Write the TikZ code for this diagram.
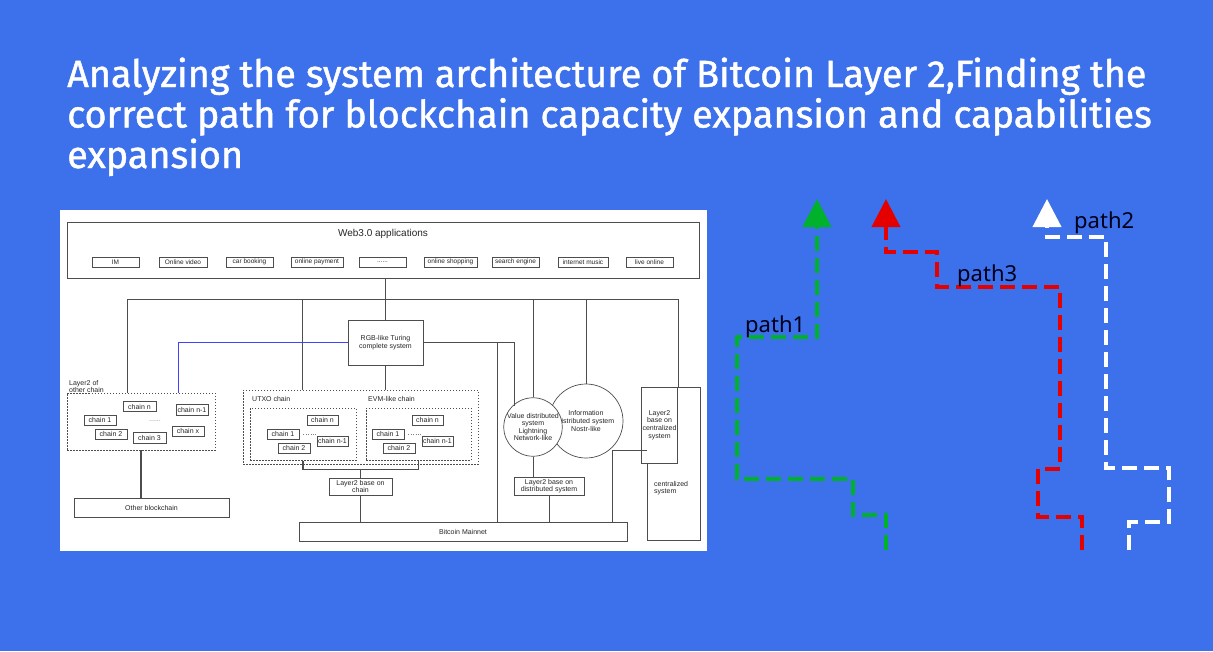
\documentclass[tikz,border=0pt]{standalone}
\usepackage{fontspec}
\setmainfont{Liberation Sans}
\newfontfamily\titlefont[FakeBold=1.2]{Fira Sans}
\newfontfamily\pathfont{Noto Sans}
\usetikzlibrary{arrows.meta}

\definecolor{bgblue}{HTML}{3D70EB}
\definecolor{pathgreen}{HTML}{00B22B}
\definecolor{pathred}{HTML}{E50000}
\definecolor{linegray}{HTML}{4D4D4D}
\definecolor{textgray}{HTML}{262626}

\tikzset{
  box/.style={draw=linegray, line width=0.7pt, fill=white, inner sep=1pt, align=center,
    text=textgray, font=\fontsize{7}{7.6}\selectfont},
  appbox/.style={box, minimum height=10pt, font=\fontsize{6.5}{7}\selectfont},
  chainbox/.style={box, line width=0.9pt, minimum width=32pt, minimum height=10pt},
  dotbox/.style={draw=linegray, line width=0.8pt, dash pattern=on 1.5pt off 1.5pt},
  wire/.style={draw=linegray, line width=0.7pt},
  bigwire/.style={draw=linegray, line width=1.4pt},
  blueline/.style={draw=blue!75!white, line width=0.8pt},
  tag/.style={text=textgray, font=\fontsize{7}{7.6}\selectfont, inner sep=0pt, align=left},
  route/.style={line width=4pt, dash pattern=on 15pt off 7pt, -{Triangle[width=28pt,length=28pt]}},
  pathlabel/.style={font=\pathfont\fontsize{22}{24}\selectfont, text=black!90!blue, inner sep=0pt},
}

\begin{document}
\begin{tikzpicture}[x=1pt,y=-1pt]

  % Background
  \fill[bgblue] (0,0) rectangle (1213,651);
  \useasboundingbox (0,0) rectangle (1213,651);

  % Title
  \node[anchor=base west, align=left, text=white, inner sep=0pt,
    font=\titlefont\fontsize{37.8}{40.5}\selectfont] (title) at (67,168)
    {Analyzing the system architecture of Bitcoin Layer 2,Finding the\\
     correct path for blockchain capacity expansion and capabilities\\
     expansion};

  % Diagram panel
  \fill[white] (60,210) rectangle (707,551);

  % Web3.0 applications
  \node[box, minimum width=632pt, minimum height=56pt] (web) at (383,250) {};
  \node[tag, font=\fontsize{10}{11}\selectfont] (webtitle) at (383,234) {Web3.0 applications};
  \foreach \app/\cx/\w [count=\i] in {IM/115.5/47, Online video/183/48, car booking/249.5/47,
      online payment/317/52, {......}/382.5/47, online shopping/450.5/53,
      search engine/515.5/47, internet music/583/50, live online/649.5/47}
    \node[appbox, minimum width=\w pt] (app\i) at (\cx,262) {\app};

  % Middle layer
  \node[box, minimum width=75pt, minimum height=45pt] (rgb) at (385.5,342.5)
    {RGB-like Turing\\complete system};

  % Layer2 of other chain
  \node[dotbox, minimum width=148pt, minimum height=57pt] (otherl2) at (141,421.5) {};
  \node[tag, anchor=south west] (otherl2title) at (69,393) {Layer2 of\\other chain};
  \node[chainbox, minimum width=33pt] (on) at (139.5,406.5) {chain n};
  \node[chainbox, minimum height=11pt] (on1) at (192,409.5) {chain n-1};
  \node[chainbox] (o1) at (100,420) {chain 1};
  \node[chainbox] (o2) at (111,434) {chain 2};
  \node[chainbox, minimum width=33pt, minimum height=11pt] (o3) at (149.5,437.5) {chain 3};
  \node[chainbox] (ox) at (188,431) {chain x};
  \node[tag, text=black!45] (odots) at (155,421) {......};
  \node[box, minimum width=155pt, minimum height=19pt] (otherbc) at (151.5,507.5) {Other blockchain};

  % UTXO and EVM-like chains
  \node[dotbox, minimum width=235pt, minimum height=74pt] (utxo) at (360.5,427) {};
  \node[tag, anchor=west] (utxotitle) at (252,399) {UTXO chain};
  \node[tag, anchor=west] (evmtitle) at (368,399) {EVM-like chain};
  \node[dotbox, minimum width=106pt, minimum height=52pt] (uin) at (303,434) {};
  \node[dotbox, minimum width=105pt, minimum height=52pt] (ein) at (418.5,434) {};
  \foreach \pre/\dx in {u/0, e/105}{
    \node[chainbox, minimum width=31pt] (\pre n) at (322.5+\dx,420) {chain n};
    \node[chainbox] (\pre 1) at (283+\dx,434) {chain 1};
    \node[chainbox] (\pre 2) at (294+\dx,448) {chain 2};
    \node[chainbox, minimum width=31pt] (\pre n1) at (332.5+\dx,441) {chain n-1};
    \draw[black!50, dotted] ([xshift=4pt]\pre 1.east) -- (\pre 1.east -| \pre n1.west);
  }
  \node[box, minimum width=63pt, minimum height=17pt] (l2chain) at (360.5,486.5)
    {Layer2 base on\\chain};

  % Distributed systems
  \node[box, circle, minimum size=74pt, inner sep=0pt] (ic) at (586,421)
    {Information\\distributed system\\Nostr-like};
  \node[box, circle, minimum size=53pt, inner sep=0pt] (vc) at (533,427)
    {Value distributed\\system\\Lightning\\Network-like};
  \node[box, minimum width=70pt, minimum height=18pt] (l2dist) at (549,486)
    {Layer2 base on\\distributed system};

  % Centralized system
  \node[box, minimum width=53pt, minimum height=153pt] (central) at (673.5,463.5) {};
  \node[box, minimum width=25pt, minimum height=76pt] (l2cen) at (659.5,425)
    {Layer2\\base on\\centralized\\system};
  \node[tag, anchor=west] (centraltext) at (654,488) {centralized\\system};

  % Bitcoin Mainnet
  \node[box, minimum width=328pt, minimum height=19pt] (mainnet) at (463,531.5) {Bitcoin Mainnet};

  % Connectors
  \coordinate (busW) at (127,299);
  \coordinate (busE) at (678,299);
  \coordinate (tapU) at (302,299);
  \coordinate (tapV) at (533,299);
  \coordinate (tapI) at (586,299);
  \coordinate (blueC) at (178,342.5);
  \coordinate (rgbR) at (514,342.5);
  \coordinate (tapM) at (497,342.5);
  \coordinate (cjoin) at (612,450);

  \draw[wire] (rgb.north |- web.south) -- (rgb.north);
  \draw[wire] (busW |- otherl2.north) -- (busW) -- (busE) -- (busE |- central.north);
  \draw[wire] (tapU) -- (tapU |- utxo.north);
  \draw[wire] (tapV) -- (vc.north);
  \draw[wire] (tapI) -- (ic.north);
  \draw[wire] (rgb.south) -- (rgb.south |- utxo.north);
  \draw[blueline] (rgb.west) -- (blueC) -- (blueC |- otherl2.north);
  \draw[wire] (rgb.east) -- (rgbR) -- (rgbR |- vc.135);
  \draw[wire] (tapM) -- (tapM |- mainnet.north);
  \draw[bigwire] (otherl2.south) -- (otherl2.south |- otherbc.north);
  \draw[bigwire] ([yshift=-1pt]uin.south) -- ++(0,8) -| ([yshift=-1pt]ein.south);
  \draw[bigwire] (l2chain.north) -- ++(0,-9);
  \draw[wire] (l2chain.south) -- (l2chain.south |- mainnet.north);
  \draw[wire] (vc.south) -- (vc.south |- l2dist.north);
  \draw[wire] (l2dist.south) -- (l2dist.south |- mainnet.north);
  \draw[wire] (mainnet.north -| cjoin) -- (cjoin) -- (cjoin -| central.west);

  % Paths
  \draw[route, pathgreen] (886,550) -- (886,515) -- (853,515) -- (853,479) -- (737,479)
    -- (737,337) -- (817,337) -- (817,199);
  \draw[route, pathred] (1082,550) -- (1082,517) -- (1038,517) -- (1038,469) -- (1060,469)
    -- (1060,287) -- (937,287) -- (937,252) -- (886,252) -- (886,199);
  \draw[route, white] (1129,550) -- (1129,522) -- (1169,522) -- (1169,468) -- (1106,468)
    -- (1106,237) -- (1047,237) -- (1047,199);
  \node[pathlabel, anchor=base west] (path1) at (745,332) {path1};
  \node[pathlabel, anchor=base west] (path3) at (957,281) {path3};
  \node[pathlabel, anchor=base west] (path2) at (1074,228) {path2};

\end{tikzpicture}
\end{document}
